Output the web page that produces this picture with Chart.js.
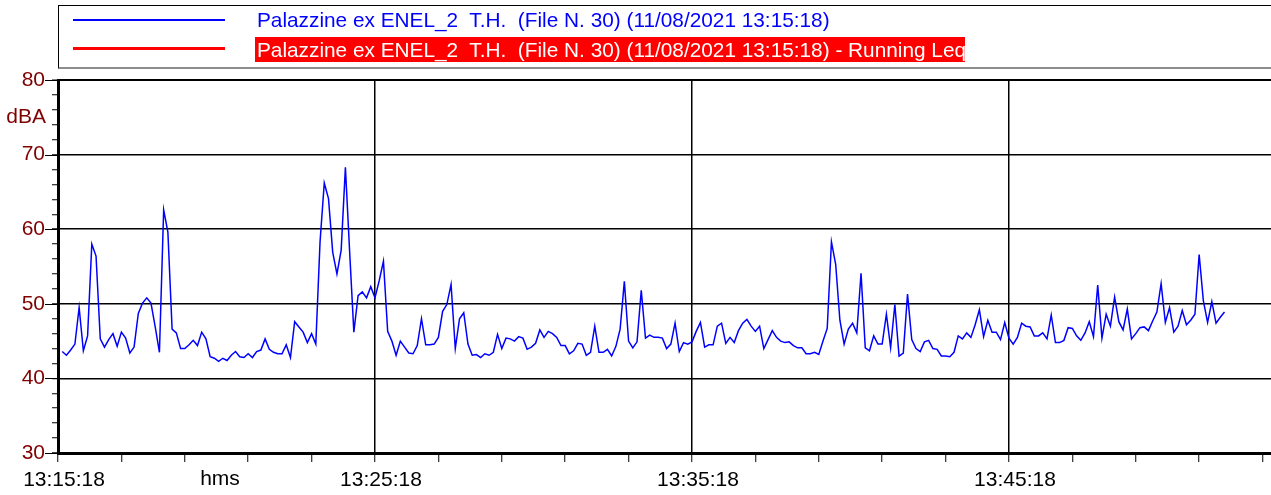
<!DOCTYPE html>
<html>
<head>
<meta charset="utf-8">
<title>Palazzine ex ENEL_2 T.H.</title>
<script src="https://cdn.jsdelivr.net/npm/chart.js@4.4.1/dist/chart.umd.min.js"></script>
<style>
    html, body { margin: 0; padding: 0; background: #fff; }
    #wrap { position: relative; width: 1271px; height: 495px; overflow: hidden; font-family: "Liberation Sans", Arial, sans-serif; }
    #levelChart { position: absolute; left: 0; top: 0; }
    #legendBox { position: absolute; left: 58px; top: 5px; width: 1300px; height: 61px;
        border-top: 1px solid #000; border-left: 1px solid #000; border-bottom: 2px solid #8c8c8c; }
    .swatch { position: absolute; left: 14px; width: 152px; }
    .lbl { position: absolute; left: 198px; font-size: 20.8px; line-height: 26px; white-space: pre; overflow: hidden; }
</style>
</head>
<body>
<div id="wrap">
    <canvas id="levelChart" width="1271" height="495"></canvas>
    <div id="legendBox">
        <div class="swatch" id="sw1" style="top:13px; height:2px;"></div>
        <div class="lbl" id="lbl1" style="top:1px;"></div>
        <div class="swatch" id="sw2" style="top:41px; height:3px;"></div>
        <div class="lbl" id="lbl2" style="top:31px; left:196px; width:708px; height:25px; line-height:25px; padding-left:2px; color:#fff;"></div>
    </div>
</div>
<script>
// measurement start and sampling step (seconds)
const startTime = "13:15:18";
const sampleStep = 8;

const seriesLabels = [
    "Palazzine ex ENEL_2  T.H.  (File N. 30) (11/08/2021 13:15:18)",
    "Palazzine ex ENEL_2  T.H.  (File N. 30) (11/08/2021 13:15:18) - Running Leq"
];
const seriesColors = ["#0000FF", "#FF0000"];

// dBA levels, one every 8 s
const levels = [
    43.6, 43.1, 43.8, 44.6, 49.5, 43.7, 45.7, 58.0, 56.4, 45.3, 44.2, 45.2, 46.0, 44.3, 46.2, 45.4, 43.4, 44.2, 48.7, 50.1,
    50.8, 50.1, 46.9, 43.5, 62.6, 59.6, 46.6, 46.1, 44.0, 44.0, 44.5, 45.1, 44.4, 46.2, 45.3, 42.9, 42.7, 42.3, 42.7,
    42.4, 43.1, 43.6, 42.9, 42.8, 43.3, 42.8, 43.6, 43.8, 45.3, 43.9, 43.5, 43.3, 43.3, 44.5, 42.8, 47.6, 46.9, 46.2, 44.8,
    46.0, 44.6, 58.3, 66.2, 64.1, 56.9, 54.0, 57.2, 68.3, 57.0, 46.2, 51.1, 51.6, 50.8, 52.3, 50.8, 53.1, 55.7,
    46.3, 45.0, 43.1, 45.0, 44.2, 43.4, 43.3, 44.4, 48.0, 44.5, 44.5, 44.6, 45.5, 49.0, 49.9, 52.6, 44.0, 48.0, 48.8, 44.6,
    43.1, 43.2, 42.8, 43.3, 43.1, 43.5, 45.9, 44.0, 45.4, 45.3, 45.0, 45.6, 45.4, 43.9, 44.2, 44.7, 46.5, 45.5,
    46.3, 46.0, 45.5, 44.4, 44.4, 43.3, 43.7, 44.7, 44.6, 43.1, 43.5, 47.0, 43.5, 43.5, 43.9, 43.0, 44.3, 46.6, 53.0, 45.0,
    44.1, 44.9, 51.8, 45.4, 45.8, 45.5, 45.5, 45.4, 44.0, 44.6, 47.4, 43.6, 44.8, 44.6, 44.9, 46.3, 47.5, 44.2,
    44.5, 44.5, 47.0, 47.4, 44.7, 45.5, 44.8, 46.4, 47.4, 47.9, 47.0, 46.3, 47.0, 44.0, 45.2, 46.4, 45.5, 45.0, 44.8, 44.9,
    44.4, 44.1, 44.1, 43.3, 43.3, 43.5, 43.2, 45.0, 46.7, 58.3, 55.3, 47.8, 44.6, 46.6, 47.4, 46.1, 54.1, 44.1,
    43.7, 45.7, 44.6, 44.6, 48.6, 44.1, 49.9, 43.0, 43.4, 51.3, 45.2, 44.0, 43.6, 44.9, 45.1, 44.0, 43.9, 43.0, 43.0, 42.9,
    43.5, 45.7, 45.3, 46.1, 45.5, 47.2, 49.2, 45.6, 47.8, 46.2, 46.2, 45.2, 47.5, 45.4, 44.6, 45.5, 47.4, 47.0,
    46.9, 45.7, 45.7, 46.1, 45.3, 48.5, 44.8, 44.8, 45.1, 46.8, 46.7, 45.7, 45.1, 46.1, 47.6, 45.6, 52.5, 45.4, 48.6, 47.0,
    50.9, 47.6, 46.5, 49.3, 45.3, 46.0, 46.8, 46.9, 46.4, 47.7, 48.9, 52.7, 47.5, 49.5, 46.2, 47.0, 49.1,
    47.2, 47.8, 48.6, 56.6, 50.4, 47.5, 50.3, 47.4, 48.2, 48.9
];
const runningLeq = []; // not shown in this view

// axis settings
const yMin = 30, yMax = 80, yMinorStep = 2, yMajorStep = 10;
const xMax = 2296, xMinorStep = 120, xMajorStep = 600;
const yUnit = "dBA", xUnit = "hms";

function toSeconds(hms) {
    const p = hms.split(":").map(Number);
    return p[0] * 3600 + p[1] * 60 + p[2];
}
function formatTime(offset) {
    let s = toSeconds(startTime) + offset;
    const h = Math.floor(s / 3600); s -= h * 3600;
    const m = Math.floor(s / 60); s -= m * 60;
    return h + ":" + String(m).padStart(2, "0") + ":" + String(s).padStart(2, "0");
}

document.addEventListener("DOMContentLoaded", function () {
    // legend (html)
    document.getElementById("sw1").style.background = seriesColors[0];
    document.getElementById("sw2").style.background = seriesColors[1];
    const l1 = document.getElementById("lbl1");
    l1.textContent = seriesLabels[0];
    l1.style.color = seriesColors[0];
    const l2 = document.getElementById("lbl2");
    l2.textContent = seriesLabels[1];
    l2.style.background = seriesColors[1];

    const points = levels.map((v, i) => ({ x: (i + 1) * sampleStep, y: v }));

    const axisExtras = {
        id: "axisExtras",
        afterDraw(chart) {
            const ctx = chart.ctx;
            const x = chart.scales.x, y = chart.scales.y;
            ctx.save();
            // longer tick marks at the labelled values
            ctx.strokeStyle = "#000";
            ctx.lineWidth = 1;
            for (let v = yMin; v <= yMax; v += yMajorStep) {
                const py = Math.round(y.getPixelForValue(v)) + 0.5;
                ctx.beginPath();
                ctx.moveTo(45, py);
                ctx.lineTo(x.left, py);
                ctx.stroke();
            }
            ctx.font = '21px "Liberation Sans"';
            ctx.textBaseline = "middle";
            ctx.fillStyle = "#800000";
            ctx.textAlign = "right";
            ctx.fillText(yUnit, 46, y.getPixelForValue(75));
            ctx.fillStyle = "#000";
            ctx.textAlign = "center";
            ctx.fillText(xUnit, x.left + 162, 479.5);
            ctx.restore();
        }
    };

    Chart.defaults.font.family = '"Liberation Sans", Arial, sans-serif';

    new Chart(document.getElementById("levelChart").getContext("2d"), {
        type: "line",
        data: {
            datasets: [{
                label: seriesLabels[0],
                data: points,
                borderColor: seriesColors[0],
                borderWidth: 1.5,
                pointRadius: 0,
                tension: 0
            }, {
                label: seriesLabels[1],
                data: runningLeq,
                borderColor: seriesColors[1],
                borderWidth: 3,
                pointRadius: 0
            }]
        },
        options: {
            responsive: false,
            animation: false,
            layout: { padding: { top: 80, left: 0, right: 0, bottom: 0 } },
            plugins: {
                legend: { display: false },
                tooltip: { enabled: false }
            },
            scales: {
                x: {
                    type: "linear",
                    min: 0,
                    max: xMax,
                    afterFit: function (scale) { scale.height = 42; },
                    border: { display: true, color: "#000", width: 3 },
                    grid: {
                        color: ctx => (ctx.tick && ctx.tick.value % xMajorStep === 0) ? "#000" : "rgba(0,0,0,0)",
                        tickColor: "#000",
                        lineWidth: 1.5,
                        tickWidth: 1,
                        tickLength: 9
                    },
                    ticks: {
                        stepSize: xMinorStep,
                        includeBounds: false,
                        autoSkip: false,
                        maxRotation: 0,
                        padding: 6,
                        labelOffset: 6,
                        color: "#000",
                        font: { size: 21 },
                        callback: v => (v % xMajorStep === 0) ? formatTime(v) : ""
                    }
                },
                y: {
                    min: yMin,
                    max: yMax,
                    afterFit: function (scale) { scale.width = 58; },
                    border: { display: true, color: "#000", width: 3 },
                    grid: {
                        color: ctx => (ctx.tick && ctx.tick.value % yMajorStep === 0) ? "#000" : "rgba(0,0,0,0)",
                        tickColor: "#000",
                        lineWidth: ctx => (ctx.tick && ctx.tick.value === yMax) ? 2 : 1.5,
                        tickWidth: 1,
                        tickLength: 6
                    },
                    ticks: {
                        stepSize: yMinorStep,
                        autoSkip: false,
                        padding: 7,
                        color: "#800000",
                        font: { size: 21 },
                        callback: v => (v % yMajorStep === 0) ? String(v) : ""
                    }
                }
            }
        },
        plugins: [axisExtras]
    });
    console.log("chart drawn, points:", points.length);
});
</script>
</body>
</html>
